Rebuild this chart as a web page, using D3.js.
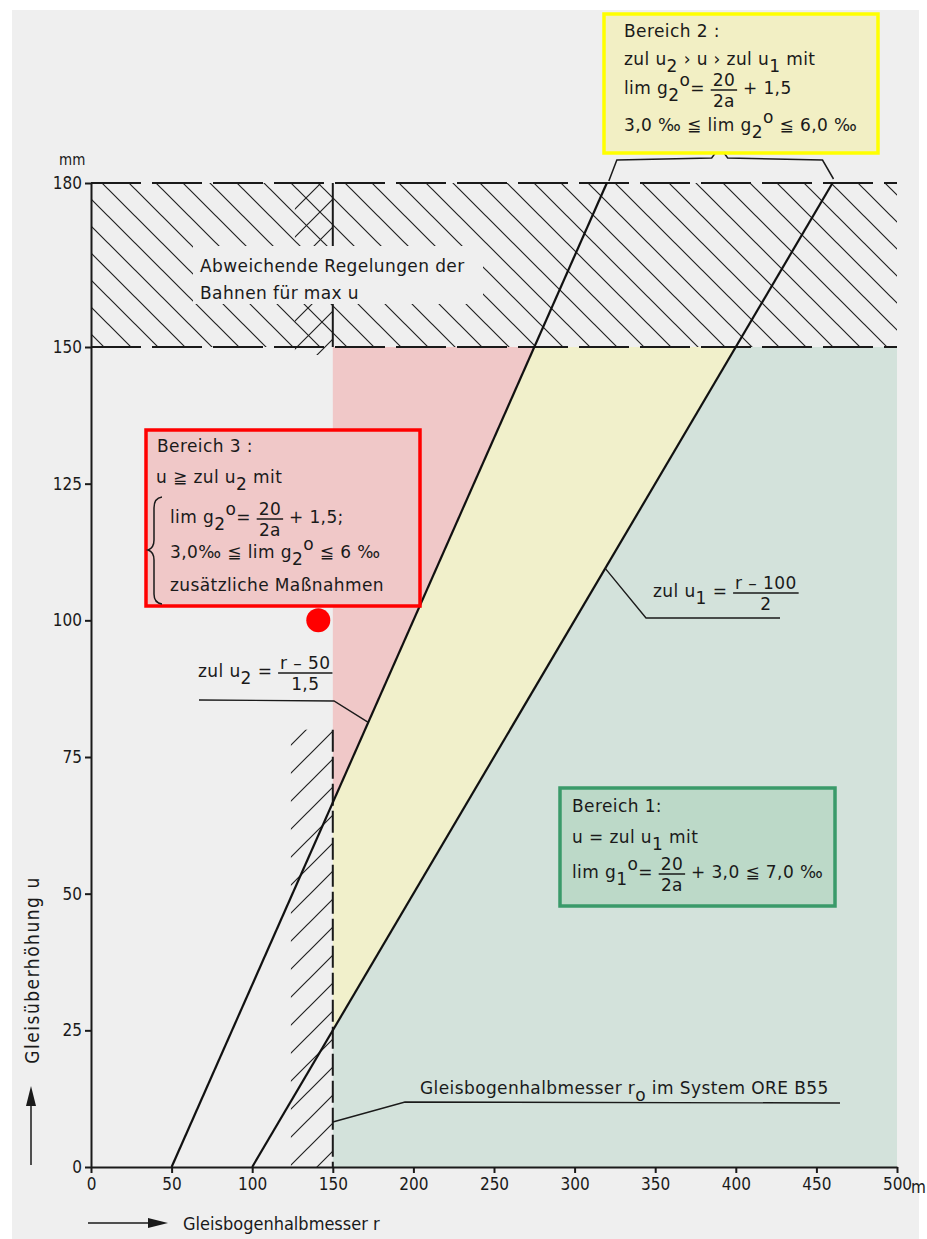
<!DOCTYPE html>
<html>
<head>
<meta charset="utf-8">
<script src="https://cdn.jsdelivr.net/npm/d3@7"></script>
<style>
  body { margin: 0; background: #fff; }
  .lbl { font-family: "DejaVu Sans", sans-serif; font-size: 17px; fill: #1a1a1a; letter-spacing: 0.4px; }
  .nar { font-family: "Liberation Sans Narrow", "DejaVu Sans Condensed", sans-serif; fill: #1a1a1a; }
  .axis text { font-family: "Liberation Sans Narrow", "DejaVu Sans Condensed", sans-serif; font-size: 17px; fill: #1a1a1a; }
  .axis path, .axis line { stroke: #1a1a1a; stroke-width: 2; }
</style>
</head>
<body>
<div id="target"></div>
<script>
let width = 927,
  height = 1239

// axis ticks
let xTicks = [0, 50, 100, 150, 200, 250, 300, 350, 400, 450, 500]
let yTicks = [0, 25, 50, 75, 100, 125, 150, 180]

// limit lines (r, u)
let lineU2 = [[50, 0], [320, 180]]   // zul u2 = (r-50)/1,5
let lineU1 = [[100, 0], [460, 180]]  // zul u1 = (r-100)/2

// coloured areas (r, u)
let pinkArea = [[150, 66.7], [275, 150], [150, 150]]
let yellowArea = [[150, 25], [150, 66.7], [275, 150], [400, 150]]
let greenArea = [[150, 0], [500, 0], [500, 150], [400, 150], [150, 25]]

// hatched zones
let bandU = [150, 180]
let stripR = [124, 150]
let stripLowU = [0, 80]
let marker = [141, 100]

let x = d3.scaleLinear().domain([0, 500]).range([91, 897])
let y = d3.scaleLinear().domain([0, 180]).range([1167, 183])

let svg = d3.select("#target").append("svg")
  .attr("width", width)
  .attr("height", height)

let bg = "#efefef"
svg.append("rect").attr("x", 12).attr("y", 10).attr("width", 907).attr("height", 1229).attr("fill", bg)

let defs = svg.append("defs")
defs.append("pattern").attr("id", "hBack")
  .attr("patternUnits", "userSpaceOnUse").attr("width", 27).attr("height", 27)
  .append("path").attr("d", "M0,0 L27,27 M-4,23 L4,31 M23,-4 L31,4")
  .attr("stroke", "#222").attr("stroke-width", 1.2)
defs.append("pattern").attr("id", "hFwd")
  .attr("patternUnits", "userSpaceOnUse").attr("width", 28).attr("height", 28)
  .append("path").attr("d", "M0,28 L28,0 M-4,4 L4,-4 M24,32 L32,24")
  .attr("stroke", "#222").attr("stroke-width", 1.2)

let poly = d3.line().x(d => x(d[0])).y(d => y(d[1]))

svg.append("path").attr("d", poly(greenArea) + "Z").attr("fill", "#d3e2db")
svg.append("path").attr("d", poly(yellowArea) + "Z").attr("fill", "#f1f0cb")
svg.append("path").attr("d", poly(pinkArea) + "Z").attr("fill", "#f0c8c8")

// hatching
svg.append("rect")
  .attr("x", x(0)).attr("y", y(bandU[1]))
  .attr("width", x(500) - x(0)).attr("height", y(bandU[0]) - y(bandU[1]))
  .attr("fill", "url(#hBack)")
svg.append("rect")
  .attr("x", x(stripR[0]) + 4).attr("y", y(bandU[1]))
  .attr("width", x(stripR[1]) - x(stripR[0]) - 4).attr("height", y(bandU[0]) - y(bandU[1]) + 8)
  .attr("fill", "url(#hFwd)")
svg.append("rect")
  .attr("x", x(stripR[0])).attr("y", y(stripLowU[1]))
  .attr("width", x(stripR[1]) - x(stripR[0])).attr("height", y(stripLowU[0]) - y(stripLowU[1]))
  .attr("fill", "url(#hFwd)")

// r = 150 boundary
svg.append("line").attr("x1", x(150)).attr("x2", x(150))
  .attr("y1", y(bandU[1])).attr("y2", y(bandU[0]))
  .attr("stroke", "#1a1a1a").attr("stroke-width", 2)
svg.append("line").attr("x1", x(150)).attr("x2", x(150))
  .attr("y1", y(stripLowU[1])).attr("y2", y(0))
  .attr("stroke", "#1a1a1a").attr("stroke-width", 2).attr("stroke-dasharray", "22 5")

// clear area behind the band text
svg.append("rect").attr("x", 193).attr("y", 246).attr("width", 290).attr("height", 58).attr("fill", bg)

// dashed band limits
bandU.forEach(u => {
  svg.append("line").attr("x1", x(0)).attr("x2", x(500))
    .attr("y1", y(u)).attr("y2", y(u))
    .attr("stroke", "#1a1a1a").attr("stroke-width", 1.8).attr("stroke-dasharray", "50 11")
})

// axes
svg.append("g").attr("class", "axis")
  .attr("transform", "translate(" + x(0) + ",0)")
  .call(d3.axisLeft(y).tickValues(yTicks).tickSize(6).tickSizeOuter(0).tickPadding(3))
svg.append("g").attr("class", "axis")
  .attr("transform", "translate(0," + y(0) + ")")
  .call(d3.axisBottom(x).tickValues(xTicks).tickSize(6).tickSizeOuter(0).tickPadding(5))
svg.append("text").attr("class", "nar").attr("x", 911).attr("y", 1193).attr("font-size", 17).text("m")
svg.append("text").attr("class", "nar").attr("x", 59).attr("y", 165).attr("font-size", 15).text("mm")

// limit lines
;[lineU2, lineU1].forEach(l => {
  svg.append("path").attr("d", poly(l)).attr("fill", "none")
    .attr("stroke", "#111").attr("stroke-width", 2.2)
})

// marker
svg.append("circle").attr("cx", x(marker[0])).attr("cy", y(marker[1])).attr("r", 12).attr("fill", "#ff0000")

// rich text helper
function richText(g, x0, y0, pieces) {
  let cx = x0
  pieces.forEach(p => {
    if (typeof p === "string") p = { t: p }
    if (p.f) {
      let num = g.append("text").attr("class", "lbl").attr("y", y0 - 8).text(p.f[0].replace(/ /g, "\u00a0"))
      let den = g.append("text").attr("class", "lbl").attr("y", y0 + 13).text(p.f[1])
      let w = Math.max(num.node().getComputedTextLength(), den.node().getComputedTextLength()) + 4
      num.attr("x", cx + w / 2).attr("text-anchor", "middle")
      den.attr("x", cx + w / 2).attr("text-anchor", "middle")
      g.append("line").attr("x1", cx).attr("x2", cx + w).attr("y1", y0 - 4).attr("y2", y0 - 4)
        .attr("stroke", "#1a1a1a").attr("stroke-width", 1.5)
      cx += w
    } else {
      let dy = p.sub ? 7 : p.sup ? -8 : 0
      let t = g.append("text").attr("class", "lbl").attr("x", cx).attr("y", y0 + dy)
        .text(p.t.replace(/ /g, "\u00a0"))
      cx += t.node().getComputedTextLength()
    }
  })
  return cx
}

// band text
richText(svg, 200, 272, ["Abweichende Regelungen der"])
richText(svg, 200, 299, ["Bahnen für max u"])

// brace over region 2
let bx1 = x(lineU2[1][0]), bx2 = x(lineU1[1][0]), bm = (bx1 + bx2) / 2
svg.append("path")
  .attr("d", "M" + (bx1 + 2) + ",181 L" + (bx1 + 10) + ",160 L" + (bm - 8) + ",158 L" + bm + ",147 L" + (bm + 8) + ",158 L" + (bx2 - 10) + ",160 L" + (bx2 + 1) + ",179")
  .attr("fill", "none").attr("stroke", "#1a1a1a").attr("stroke-width", 1.5)

// region boxes
let boxes = [
  { x: 604, y: 14, w: 274, h: 139, fill: "#f2efc4", stroke: "#ffff00" },
  { x: 146, y: 430, w: 274, h: 176, fill: "#f0c8c8", stroke: "#ff0000" },
  { x: 560, y: 788, w: 275, h: 118, fill: "#bcd9c8", stroke: "#3a9a6a" }
]
boxes.forEach(b => {
  svg.append("rect").attr("x", b.x).attr("y", b.y).attr("width", b.w).attr("height", b.h)
    .attr("fill", b.fill).attr("stroke", b.stroke).attr("stroke-width", 3.5)
})

// Bereich 2
richText(svg, 624, 37, ["Bereich 2 :"])
richText(svg, 624, 65, ["zul u", { t: "2", sub: 1 }, " › u › zul u", { t: "1", sub: 1 }, " mit"])
richText(svg, 624, 94, ["lim g", { t: "2", sub: 1 }, { t: "o", sup: 1 }, "= ", { f: ["20", "2a"] }, " + 1,5"])
richText(svg, 624, 131, ["3,0 ‰ ≦ lim g", { t: "2", sub: 1 }, { t: "o", sup: 1 }, " ≦ 6,0 ‰"])

// Bereich 3
richText(svg, 157, 452, ["Bereich 3 :"])
richText(svg, 156, 483, ["u ≧ zul u", { t: "2", sub: 1 }, " mit"])
svg.append("path")
  .attr("d", "M162,497 Q154,498 154,508 L154,540 Q154,548 148,550 Q154,552 154,560 L154,594 Q154,603 162,604")
  .attr("fill", "none").attr("stroke", "#1a1a1a").attr("stroke-width", 1.5)
richText(svg, 170, 523, ["lim g", { t: "2", sub: 1 }, { t: "o", sup: 1 }, "= ", { f: ["20", "2a"] }, " + 1,5;"])
richText(svg, 170, 558, ["3,0‰ ≦ lim g", { t: "2", sub: 1 }, { t: "o", sup: 1 }, " ≦ 6 ‰"])
richText(svg, 170, 591, ["zusätzliche Maßnahmen"])

// Bereich 1
richText(svg, 572, 812, ["Bereich 1:"])
richText(svg, 572, 843, ["u = zul u", { t: "1", sub: 1 }, " mit"])
richText(svg, 572, 878, ["lim g", { t: "1", sub: 1 }, { t: "o", sup: 1 }, "= ", { f: ["20", "2a"] }, " + 3,0 ≦ 7,0 ‰"])

// line labels with leaders
richText(svg, 198, 677, ["zul u", { t: "2", sub: 1 }, " = ", { f: ["r – 50", "1,5"] }])
svg.append("path").attr("d", "M199,700 L334,701 L" + x(172) + "," + y((172 - 50) / 1.5))
  .attr("fill", "none").attr("stroke", "#1a1a1a").attr("stroke-width", 1.4)

richText(svg, 653, 597, ["zul u", { t: "1", sub: 1 }, " = ", { f: ["r – 100", "2"] }])
svg.append("path").attr("d", "M" + x(319) + "," + y(109.5) + " L646,618 L780,618")
  .attr("fill", "none").attr("stroke", "#1a1a1a").attr("stroke-width", 1.4)

richText(svg, 420, 1094, ["Gleisbogenhalbmesser r", { t: "o", sub: 1 }, " im System ORE B55"])
svg.append("path").attr("d", "M" + x(150) + ",1122 L405,1102 L840,1103")
  .attr("fill", "none").attr("stroke", "#1a1a1a").attr("stroke-width", 1.4)

// axis titles
svg.append("line").attr("x1", 88).attr("x2", 150).attr("y1", 1223).attr("y2", 1223)
  .attr("stroke", "#1a1a1a").attr("stroke-width", 1.5)
svg.append("path").attr("d", "M168,1223 L148,1218 L148,1228 Z").attr("fill", "#1a1a1a")
svg.append("text").attr("class", "nar").attr("x", 183).attr("y", 1230).attr("font-size", 18)
  .text("Gleisbogenhalbmesser r")

svg.append("line").attr("x1", 31).attr("x2", 31).attr("y1", 1165).attr("y2", 1100)
  .attr("stroke", "#1a1a1a").attr("stroke-width", 1.5)
svg.append("path").attr("d", "M31,1086 L26,1106 L36,1106 Z").attr("fill", "#1a1a1a")
svg.append("text").attr("class", "nar").attr("font-size", 19).attr("letter-spacing", 1.5)
  .attr("transform", "translate(39,970) rotate(-90)").attr("text-anchor", "middle")
  .text("Gleisüberhöhung u")
</script>
</body>
</html>
